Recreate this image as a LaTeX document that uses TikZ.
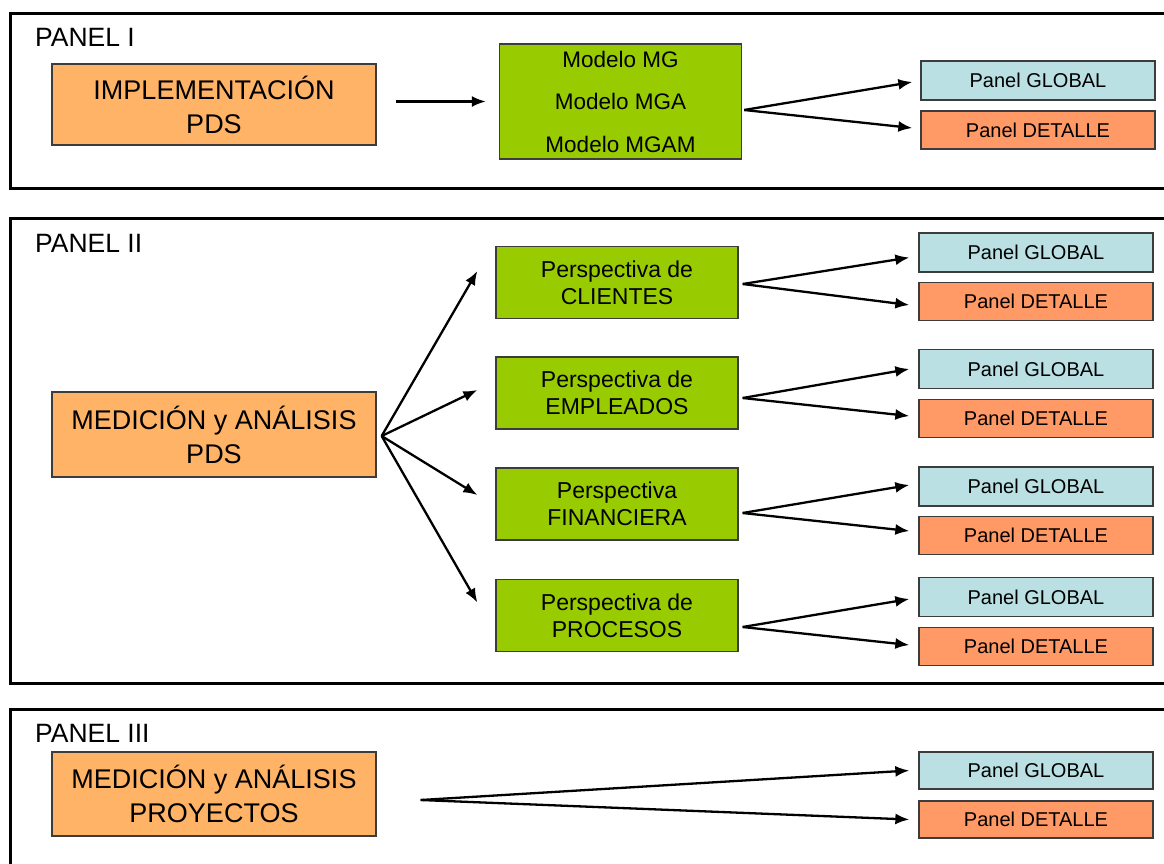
\documentclass[tikz,border=0pt]{standalone}
\usepackage{fontspec}
\setmainfont{Liberation Sans}
\usetikzlibrary{arrows.meta,calc}
\definecolor{boxorange}{HTML}{FFB366}
\definecolor{boxgreen}{HTML}{99CC00}
\definecolor{boxblue}{HTML}{BAE0E3}
\definecolor{boxsalmon}{HTML}{FF9966}
\definecolor{boxedge}{HTML}{3C3C3C}
\begin{document}
\begin{tikzpicture}[x=1pt,y=-1pt,
  frame/.style={draw=black,line width=3pt},
  paneltitle/.style={anchor=base west,inner sep=0pt,font=\fontsize{26.5}{30}\selectfont},
  srcbox/.style={draw=boxedge,line width=1.3pt,fill=boxorange,minimum width=324pt,
    inner sep=0pt,align=center,font=\fontsize{27}{34}\selectfont},
  greenbox/.style={draw=boxedge,line width=1.3pt,fill=boxgreen,minimum width=242pt,
    minimum height=72pt,inner sep=0pt,align=center,font=\fontsize{23}{27}\selectfont},
  globalbox/.style={draw=boxedge,line width=1.3pt,fill=boxblue,minimum width=234pt,
    minimum height=39pt,inner sep=0pt,font=\fontsize{20}{22}\selectfont},
  detailbox/.style={draw=boxedge,line width=1.3pt,fill=boxsalmon,minimum width=234pt,
    minimum height=38pt,inner sep=0pt,font=\fontsize{20}{22}\selectfont},
  arr/.style={draw=black,line width=2.3pt,-{Latex[length=14pt,width=11pt]}},
]
\useasboundingbox (0,0) rectangle (1164,863);
\clip (0,0) rectangle (1164,863);
\fill[white] (0,0) rectangle (1164,863);

% panel frames (open to the right)
\draw[frame] (10,13) rectangle (1190,188);
\draw[frame] (10,218) rectangle (1190,683);
\draw[frame] (10,709) rectangle (1190,890);

% ---------------- PANEL I ----------------
\node[paneltitle] (t1) at (35,46) {PANEL I};
\node[srcbox,minimum height=81pt] (impl) at (214,104.5) {IMPLEMENTACIÓN\\PDS};
\node[greenbox,minimum height=115pt,font=\fontsize{22.5}{42.5}\selectfont] (mod) at (620.5,101.5)
  {Modelo MG\\Modelo MGA\\Modelo MGAM};
\node[globalbox] (g0) at (1038,80.5) {Panel GLOBAL};
\node[detailbox] (d0) at (1038,130) {Panel DETALLE};

\draw[arr,shorten <=19pt,shorten >=13pt] (impl.east |- mod.west) -- (mod.west);
\coordinate (f0) at ($(mod.east)+(2,8.5)$);
\draw[arr] (f0) -- ($(g0.west)+(-8,1.5)$);
\draw[arr] (f0) -- ($(d0.west)+(-8,-2)$);

% ---------------- PANEL II ----------------
\node[paneltitle] (t2) at (35,252) {PANEL II};
\node[srcbox,minimum height=85pt] (med) at (214,434.5) {MEDICIÓN y ANÁLISIS\\PDS};

\node[greenbox] (cli) at (617,282.5) {Perspectiva de\\CLIENTES};
\node[greenbox] (emp) at (617,393) {Perspectiva de\\EMPLEADOS};
\node[greenbox] (fin) at (617,504) {Perspectiva\\FINANCIERA};
\node[greenbox] (pro) at (617,615.5) {Perspectiva de\\PROCESOS};

\node[globalbox] (g1) at (1036,252.5) {Panel GLOBAL};
\node[detailbox] (d1) at (1036,301.5) {Panel DETALLE};
\node[globalbox] (g2) at (1036,369) {Panel GLOBAL};
\node[detailbox] (d2) at (1036,418.5) {Panel DETALLE};
\node[globalbox] (g3) at (1036,486.5) {Panel GLOBAL};
\node[detailbox] (d3) at (1036,535.5) {Panel DETALLE};
\node[globalbox] (g4) at (1036,597) {Panel GLOBAL};
\node[detailbox] (d4) at (1036,646.5) {Panel DETALLE};

\coordinate (fm) at ($(med.east)+(5,1.5)$);
\draw[arr] (fm) -- ($(cli.west)+(-18,-11.5)$);
\draw[arr] (fm) -- ($(emp.west)+(-18,-3)$);
\draw[arr] (fm) -- ($(fin.west)+(-18,-9)$);
\draw[arr] (fm) -- ($(pro.west)+(-18,-13)$);

\coordinate (f1) at ($(cli.east)+(4,1.5)$);
\draw[arr] (f1) -- ($(g1.west)+(-9,5)$);
\draw[arr] (f1) -- ($(d1.west)+(-9,3.5)$);
\coordinate (f2) at ($(emp.east)+(4,5)$);
\draw[arr] (f2) -- ($(g2.west)+(-9,0)$);
\draw[arr] (f2) -- ($(d2.west)+(-9,-2.5)$);
\coordinate (f3) at ($(fin.east)+(4,9)$);
\draw[arr] (f3) -- ($(g3.west)+(-9,-1.5)$);
\draw[arr] (f3) -- ($(d3.west)+(-9,-4.5)$);
\coordinate (f4) at ($(pro.east)+(4,11.5)$);
\draw[arr] (f4) -- ($(g4.west)+(-9,2)$);
\draw[arr] (f4) -- ($(d4.west)+(-9,-1.5)$);

% ---------------- PANEL III ----------------
\node[paneltitle] (t3) at (35,742) {PANEL III};
\node[srcbox,minimum height=84pt] (prj) at (214,794) {MEDICIÓN y ANÁLISIS\\PROYECTOS};
\node[globalbox,minimum height=37pt] (g5) at (1036,770.5) {Panel GLOBAL};
\node[detailbox,minimum height=37pt] (d5) at (1036,819.5) {Panel DETALLE};

\coordinate (fp) at ($(prj.east)+(44,6)$);
\draw[arr] (fp) -- ($(g5.west)+(-9,0)$);
\draw[arr] (fp) -- ($(d5.west)+(-9,0)$);
\end{tikzpicture}
\end{document}
